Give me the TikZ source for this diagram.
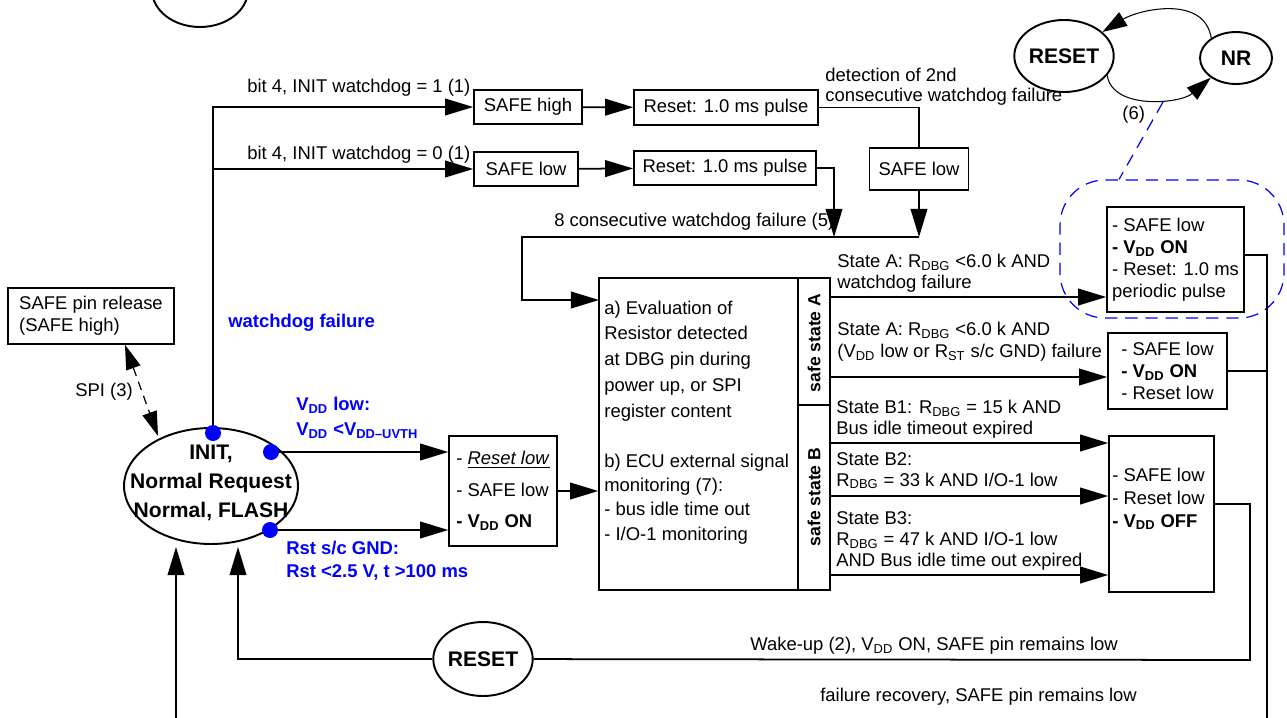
\documentclass[tikz,border=0pt]{standalone}
\usepackage{fontspec}
\setmainfont{Liberation Sans}
\usetikzlibrary{arrows.meta, shapes.geometric, calc}
\definecolor{sigblue}{RGB}{0, 0, 255}
\newcommand{\fs}{\fontsize{10.5}{12.5}\selectfont}
\newcommand{\fb}{\fontsize{12}{16.7}\selectfont\bfseries}

\begin{document}
\begin{tikzpicture}[
  x=0.02cm, y=-0.02cm,
  box/.style={draw, line width=0.9pt, align=left, font=\fs, inner sep=2pt},
  lbl/.style={align=left, font=\fs, inner sep=0pt, anchor=west},
  blu/.style={align=left, font=\fs\bfseries, text=sigblue, inner sep=0pt, anchor=west},
  st/.style={ellipse, draw, line width=1.1pt, font=\fb, align=center, inner sep=0pt},
  dot/.style={circle, fill=sigblue, inner sep=0pt, minimum size=0.32cm},
  ln/.style={line width=1pt},
  arr/.style={-{Triangle[length=16pt, width=9.5pt]}, line width=1pt},
  arrt/.style={-{Triangle[length=14pt, width=9pt]}, line width=0.6pt},
  dasharr/.style={{Triangle[length=14pt, width=8.5pt]}-{Triangle[length=14pt, width=8.5pt]},
                  dash pattern=on 5pt off 3.5pt, line width=0.7pt},
  frame/.style={draw=sigblue, dash pattern=on 7pt off 4.5pt, line width=0.7pt,
                rounded corners=0.9cm},
  bluedash/.style={draw=sigblue, dash pattern=on 7pt off 4.5pt, line width=0.7pt}
]
\useasboundingbox (0,0) rectangle (1287,717);

% states
\node[st, minimum width=1.92cm, minimum height=1.48cm] (prev) at (200,-10) {};
\node[st, minimum width=3.48cm, minimum height=2.32cm] (init) at (211,486) {};
\node[font=\fb, align=center, inner sep=0pt] (initt) at (211,483)
      {INIT,\\Normal Request\\Normal, FLASH};
\node[st, minimum width=1.94cm, minimum height=1.48cm] (rstbot) at (483,659) {RESET};
\node[st, minimum width=1.9cm, minimum height=1.44cm] (rsttop) at (1064,56) {RESET};
\node[st, minimum width=1.44cm, minimum height=1.04cm] (nr) at (1236,58) {NR};

% watchdog branch
\node[box, minimum width=2.16cm, minimum height=0.68cm] (safehi) at (528,107) {SAFE high};
\node[box, minimum width=3.68cm, minimum height=0.7cm] (rsthi) at (726,107.5) {Reset: 1.0 ms pulse};
\node[box, minimum width=2.08cm, minimum height=0.68cm] (safelo) at (526,169) {SAFE low};
\node[box, minimum width=3.64cm, minimum height=0.68cm] (rstlo) at (725,168) {Reset: 1.0 ms pulse};
\node[box, minimum width=1.98cm, minimum height=0.84cm] (safe2nd) at (919,169) {SAFE low};

% pin release
\node[box, minimum width=3.32cm, minimum height=1.12cm] (release) at (91,316)
      {SAFE pin release\\(SAFE high)};

% V_DD / reset box
\node[box, minimum width=2.16cm, minimum height=2.2cm, font=\fontsize{10.5}{18}\selectfont]
      (vddbox) at (503,491)
      {- \underline{\textit{Reset low}}\\- SAFE low\\\textbf{- V\textsubscript{DD} ON}};

% evaluation box
\node[box, minimum width=4.62cm, minimum height=6.24cm] (eval) at (714.5,434) {};
\draw[line width=0.9pt] (798,278) -- (798,590);
\draw[line width=0.9pt] (798,405) -- (830,405);
\node[rotate=90, font=\fontsize{10}{12}\selectfont\bfseries] (ssa) at (814,343) {safe state A};
\node[rotate=90, font=\fontsize{10}{12}\selectfont\bfseries] (ssb) at (814,497) {safe state B};
\node[lbl, font=\fontsize{10.5}{14.7}\selectfont] (evala) at (604,361)
      {a) Evaluation of\\Resistor detected\\at DBG pin during\\power up, or SPI\\register content};
\node[lbl, font=\fontsize{10.5}{13.8}\selectfont] (evalb) at (604,499)
      {b) ECU external signal\\monitoring (7):\\- bus idle time out\\- I/O-1 monitoring};

% safe state boxes
\node[frame, minimum width=4.48cm, minimum height=2.76cm] (dash) at (1172,249) {};
\node[box, minimum width=2.74cm, minimum height=2.1cm] (sa1) at (1175.5,259.5)
      {- SAFE low\\\textbf{- V\textsubscript{DD} ON}\\- Reset: 1.0 ms\\periodic pulse};
\node[box, minimum width=2.38cm, minimum height=1.52cm] (sa2) at (1167.5,371)
      {- SAFE low\\\textbf{- V\textsubscript{DD} ON}\\- Reset low};
\node[box, minimum width=2.1cm, minimum height=3.12cm] (sb) at (1161.5,514) {};
\node[lbl, font=\fontsize{10.5}{13}\selectfont] (sbt) at (1112,499)
      {- SAFE low\\- Reset low\\\textbf{- V\textsubscript{DD} OFF}};

% blue dots
\node[dot] (dtop) at (213,433) {};
\node[dot] (dvdd) at (271,452) {};
\node[dot] (drst) at (270,530) {};

% connectors
\coordinate (mrg) at (919,237);
\coordinate (mrgb) at (834,237);
\coordinate (lft) at (522,237);
\coordinate (evalin) at (599,300);
\draw[arr] (dtop) |- (safehi);
\draw[arr] (dtop) |- (safelo);
\draw[arr] (safehi) -- (rsthi);
\draw[arr] (safelo) -- (rstlo);
\draw[ln] (rsthi) -| (safe2nd);
\draw[arr] (safe2nd) -- (mrg);
\draw[arr] (rstlo) -| (mrgb);
\draw[arr] (mrg) -- (lft) |- (evalin);

\draw[arr] (dvdd) -- (dvdd -| vddbox.west);
\draw[arr] (drst) -- (drst -| vddbox.west);
\draw[arr] (vddbox) -- (vddbox -| eval.west);

\coordinate (ya) at (830,297);
\coordinate (yb) at (830,377);
\coordinate (yc) at (830,443);
\coordinate (yd) at (830,496);
\coordinate (ye) at (830,575);
\draw[arr] (ya) -- (ya -| sa1.west);
\draw[arr] (yb) -- (yb -| sa2.west);
\draw[arr] (yc) -- (yc -| sb.west);
\draw[arr] (yd) -- (yd -| sb.west);
\draw[arr] (ye) -- (ye -| sb.west);

\coordinate (rb) at (1267,745);
\coordinate (lb) at (176,745);
\coordinate (frin) at (176,547);
\coordinate (wk) at (1250,660);
\coordinate (wkin) at (238,547);
\draw[arr] ([yshift=0.09cm]sa1.east) -- ([yshift=0.09cm]sa1.east -| rb) -- (rb) -- (lb) -- (frin);
\draw[ln] (sa2) -- (sa2 -| rb);
\draw[ln] ([yshift=0.2cm]sb.east) -| (wk) -- (rstbot);
\draw[arr] (rstbot) -| (wkin);

\coordinate (spiend) at (158,436);
\draw[dasharr] ([xshift=0.68cm]release.south) -- (spiend);

\draw[arrt] (nr.141) .. controls (1204,-6) and (1138,10) .. (rsttop.32);
\draw[arrt] (rsttop.-24) .. controls (1112,110) and (1180,104) .. (nr.-142);
\coordinate (lk) at (1163,102);
\draw[bluedash] (lk) -- ([xshift=-1.06cm]dash.north);

% labels
\node[lbl] (l1) at (247,88) {bit 4, INIT watchdog = 1 (1)};
\node[lbl] (l0) at (247,155) {bit 4, INIT watchdog = 0 (1)};
\node[lbl, font=\fontsize{10.5}{11.5}\selectfont] (l2nd) at (825,87)
      {detection of 2nd\\consecutive watchdog failure};
\node[lbl] (l8) at (554,222) {8 consecutive watchdog failure (5)};
\node[lbl] (six) at (1122,115) {(6)};
\node[lbl] (spi) at (75,392) {SPI (3)};
\node[blu] (bwd) at (228,323) {watchdog failure};
\node[blu, font=\fontsize{10.5}{14}\selectfont\bfseries] (bvdd) at (296,418)
      {V\textsubscript{DD} low:\\V\textsubscript{DD} <V\textsubscript{DD--UVTH}};
\node[blu, font=\fontsize{10.5}{13}\selectfont\bfseries] (brst) at (286,561)
      {Rst s/c GND:\\Rst <2.5 V, t >100 ms};

\node[lbl, font=\fontsize{10.5}{12}\selectfont] (lsa) at (837,273)
      {State A: R\textsubscript{DBG} <6.0 k AND\\watchdog failure};
\node[lbl, font=\fontsize{10.5}{12.5}\selectfont] (lsa2) at (837,342)
      {State A: R\textsubscript{DBG} <6.0 k AND\\(V\textsubscript{DD} low or R\textsubscript{ST} s/c GND) failure};
\node[lbl, font=\fontsize{10.5}{12}\selectfont] (lb1) at (836,419)
      {State B1: R\textsubscript{DBG} = 15 k AND\\Bus idle timeout expired};
\node[lbl, font=\fontsize{10.5}{11.5}\selectfont] (lb2) at (836,471)
      {State B2:\\R\textsubscript{DBG} = 33 k AND I/O-1 low};
\node[lbl, font=\fontsize{10.5}{12}\selectfont] (lb3) at (836,541)
      {State B3:\\R\textsubscript{DBG} = 47 k AND I/O-1 low\\AND Bus idle time out expired};

\node[lbl] (lwk) at (750,646) {Wake-up (2), V\textsubscript{DD} ON, SAFE pin remains low};
\node[lbl] (lfr) at (820,697) {failure recovery, SAFE pin remains low};
\end{tikzpicture}
\end{document}
